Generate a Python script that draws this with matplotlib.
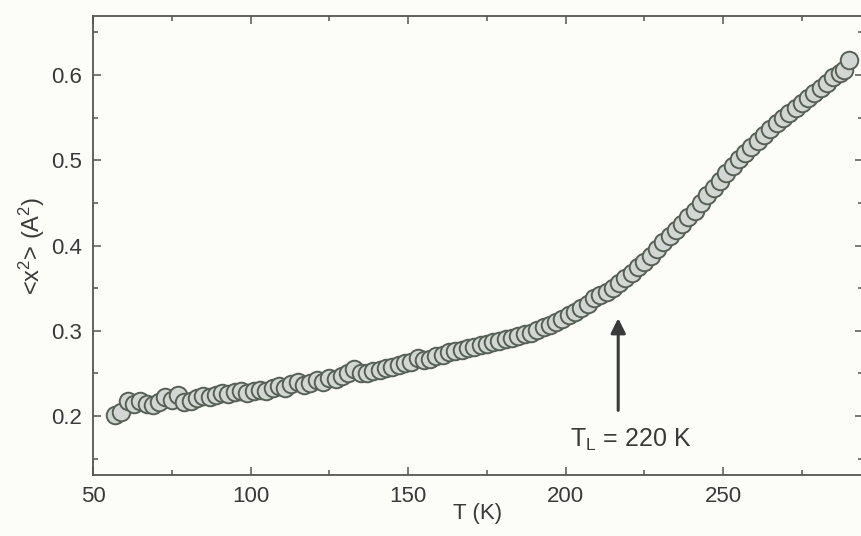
import matplotlib
matplotlib.use('Agg')
import matplotlib.pyplot as plt
from matplotlib.ticker import MultipleLocator

# temperature (K) and mean square displacement <x^2> (A^2)
temps = [57, 59, 61, 63, 65, 67, 69, 71, 73, 75, 77, 79, 81, 83, 85, 87, 89,
         91, 93, 95, 97, 99, 101, 103, 105, 107, 109, 111, 113, 115, 117, 119,
         121, 123, 125, 127, 129, 131, 133, 135, 137, 139, 141, 143, 145, 147,
         149, 151, 153, 155, 157, 159, 161, 163, 165, 167, 169, 171, 173, 175,
         177, 179, 181, 183, 185, 187, 189, 191, 193, 195, 197, 199, 201, 203,
         205, 207, 209, 211, 213, 215, 217, 219, 221, 223, 225, 227, 229, 231,
         233, 235, 237, 239, 241, 243, 245, 247, 249, 251, 253, 255, 257, 259,
         261, 263, 265, 267, 269, 271, 273, 275, 277, 279, 281, 283, 285, 287,
         288.5, 290]
msd = [0.201, 0.205, 0.218, 0.214, 0.218, 0.214, 0.213, 0.216, 0.222, 0.219,
       0.225, 0.217, 0.218, 0.221, 0.224, 0.222, 0.225, 0.227, 0.226, 0.228,
       0.229, 0.227, 0.229, 0.231, 0.229, 0.233, 0.235, 0.233, 0.238, 0.240,
       0.237, 0.239, 0.242, 0.240, 0.245, 0.244, 0.247, 0.251, 0.255, 0.250,
       0.251, 0.253, 0.254, 0.256, 0.258, 0.260, 0.262, 0.264, 0.268, 0.266,
       0.267, 0.270, 0.272, 0.275, 0.276, 0.278, 0.280, 0.281, 0.283, 0.285,
       0.287, 0.288, 0.290, 0.292, 0.294, 0.296, 0.298, 0.301, 0.304, 0.307,
       0.310, 0.314, 0.318, 0.322, 0.327, 0.332, 0.338, 0.342, 0.346, 0.350,
       0.356, 0.362, 0.368, 0.375, 0.381, 0.388, 0.396, 0.404, 0.411, 0.418,
       0.425, 0.433, 0.441, 0.450, 0.459, 0.467, 0.476, 0.485, 0.493, 0.501,
       0.508, 0.515, 0.522, 0.529, 0.536, 0.543, 0.549, 0.555, 0.561, 0.567,
       0.573, 0.579, 0.585, 0.591, 0.597, 0.602, 0.606, 0.617]

transition_T = 216.7
arrow_y = [0.2035, 0.318]
label_text = r'T$_{\mathrm{L}}$ = 220 K'

plt.rcParams['font.family'] = ['Liberation Sans', 'DejaVu Sans']
plt.rcParams['mathtext.fontset'] = 'custom'
plt.rcParams['mathtext.rm'] = 'Liberation Sans'
plt.rcParams['mathtext.it'] = 'Liberation Sans'

ink = '#3a3a3a'
bg = '#fcfcf8'

fig = plt.figure(figsize=(8.61, 5.36), dpi=100, facecolor=bg)
ax = fig.add_axes([93 / 861, 1 - 475 / 536, (863 - 93) / 861, (475 - 16) / 536])
ax.set_facecolor(bg)

ax.scatter(temps, msd, s=160, facecolor='#d3d7d3', edgecolor='#566056',
           linewidth=1.4, zorder=3)

ax.annotate('', xy=(transition_T, arrow_y[1]), xytext=(transition_T, arrow_y[0]),
            arrowprops=dict(arrowstyle='-|>', color=ink, lw=2.2,
                            mutation_scale=22))
ax.text(201.4, 0.172, label_text, fontsize=18, color=ink, va='center', ha='left')

ax.set_xlim(50, 294.4)
ax.set_ylim(0.131, 0.669)
ax.xaxis.set_major_locator(MultipleLocator(50))
ax.xaxis.set_minor_locator(MultipleLocator(25))
ax.yaxis.set_major_locator(MultipleLocator(0.1))
ax.yaxis.set_minor_locator(MultipleLocator(0.05))
ax.tick_params(which='both', direction='in', top=True, right=True,
               colors='#555555', labelcolor=ink, labelsize=16, width=1.1)
ax.tick_params(which='major', length=6, pad=8)
ax.tick_params(which='minor', length=3.5)
for sp in ax.spines.values():
    sp.set_color('#555555')
    sp.set_linewidth(1.3)

ax.set_xlabel('T (K)', fontsize=16, color=ink, labelpad=-3)
ax.set_ylabel(r'<x$^2$> (A$^2$)', fontsize=17, color=ink, labelpad=3)

fig.savefig('out.png', dpi=100, facecolor=bg)
